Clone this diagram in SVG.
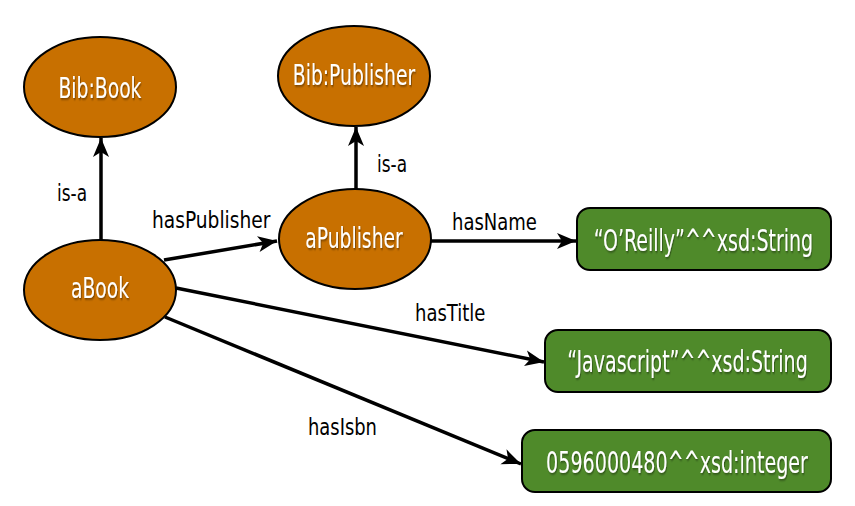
<svg xmlns="http://www.w3.org/2000/svg" width="855" height="506" viewBox="0 0 855 506">
<style>
.cls ellipse{fill:#c87000;stroke:#000;stroke-width:2}
.lit rect{fill:#4f8a2a;stroke:#000;stroke-width:2}
.nt{font-family:"DejaVu Sans Condensed","Liberation Sans",sans-serif;fill:#fff;text-anchor:middle;filter:url(#sh)}
.et{font-family:"DejaVu Sans Condensed","Liberation Sans",sans-serif;fill:#000;font-size:23px}
#edges line{stroke:#000;stroke-width:3.5;marker-end:url(#ah)}
</style>
<defs>
<marker id="ah" markerUnits="userSpaceOnUse" markerWidth="20" markerHeight="18" viewBox="0 0 20 18" refX="19" refY="9" orient="auto">
<path d="M0,1 L19,9 L0,17 L5,9 Z" fill="#000"/>
</marker>
<filter id="sh" x="-10%" y="-20%" width="120%" height="150%">
<feDropShadow dx="1" dy="1.5" stdDeviation="0.8" flood-color="#000" flood-opacity="0.45"/>
</filter>
</defs>
<rect width="855" height="506" fill="#fff"/>
<g id="edges">
<line x1="101" y1="240" x2="101" y2="138"/>
<line x1="356" y1="189" x2="356" y2="127"/>
<line x1="164" y1="260" x2="277" y2="241"/>
<line x1="431" y1="241" x2="576" y2="241"/>
<line x1="176" y1="288" x2="544" y2="362"/>
<line x1="165" y1="317" x2="521" y2="464"/>
<text class="et" transform="translate(57,201) scale(0.82,1)">is-a</text>
<text class="et" transform="translate(377,172) scale(0.82,1)">is-a</text>
<text class="et" transform="translate(152,228) scale(0.9,1)">hasPublisher</text>
<text class="et" transform="translate(452,230) scale(0.87,1)">hasName</text>
<text class="et" transform="translate(415,321) scale(0.87,1)">hasTitle</text>
<text class="et" transform="translate(308,435) scale(0.865,1)">hasIsbn</text>
</g>
<g id="bibBook" class="cls">
<ellipse cx="100" cy="87" rx="76" ry="50"/>
<text class="nt" font-size="28" transform="translate(100,98) scale(0.745,1)">Bib:Book</text>
</g>
<g id="bibPublisher" class="cls">
<ellipse cx="354" cy="76" rx="76" ry="50"/>
<text class="nt" font-size="28" transform="translate(354,85) scale(0.745,1)">Bib:Publisher</text>
</g>
<g id="aPublisher" class="cls">
<ellipse cx="355" cy="239" rx="76" ry="50"/>
<text class="nt" font-size="28" transform="translate(354,248) scale(0.745,1)">aPublisher</text>
</g>
<g id="aBook" class="cls">
<ellipse cx="100" cy="290" rx="76" ry="50"/>
<text class="nt" font-size="28" transform="translate(100,298) scale(0.742,1)">aBook</text>
</g>
<g id="oreilly" class="lit">
<rect x="577" y="208" width="254" height="62" rx="13"/>
<text class="nt" font-size="30" transform="translate(703.500,251) scale(0.705,1)">“O’Reilly”^^xsd:String</text>
</g>
<g id="javascript" class="lit">
<rect x="545" y="330" width="286" height="62" rx="13"/>
<text class="nt" font-size="30" transform="translate(687.500,372) scale(0.705,1)">“Javascript”^^xsd:String</text>
</g>
<g id="isbn" class="lit">
<rect x="522" y="430" width="309" height="62" rx="13"/>
<text class="nt" font-size="30" transform="translate(677,473) scale(0.708,1)">0596000480^^xsd:integer</text>
</g>
</svg>
